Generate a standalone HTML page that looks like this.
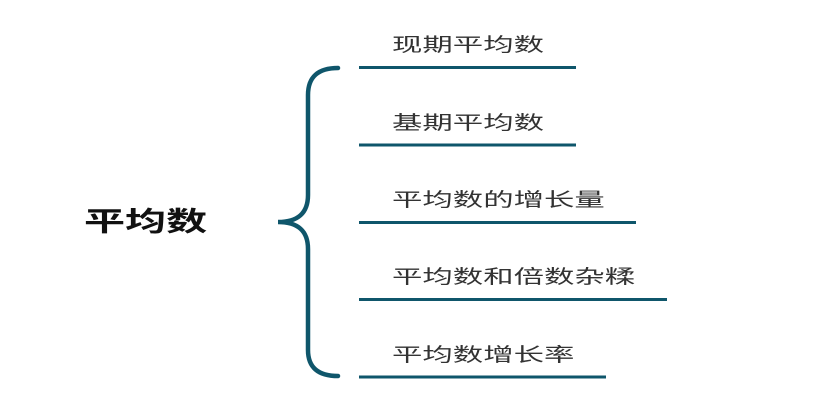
<!DOCTYPE html>
<html><head><meta charset="utf-8"><style>
html,body{margin:0;padding:0;background:#fff;}
body{width:837px;height:411px;position:relative;overflow:hidden;font-family:"Liberation Sans","Noto Sans CJK SC",sans-serif;}
.t{position:absolute;left:392px;font-size:19px;line-height:20px;color:#333;transform:scaleX(1.6);transform-origin:left center;white-space:nowrap;}
.h{position:absolute;left:84px;top:207px;font-size:27px;line-height:30px;font-weight:bold;color:#111;transform:scaleX(1.52);transform-origin:left center;white-space:nowrap;}
</style></head><body>
<svg width="837" height="411" style="position:absolute;left:0;top:0">
<g fill="none" stroke="#0f566b">
<path d="M338 68 Q308 68 308 95 L308 195 Q308 222 278 222 Q308 222 308 249 L308 350 Q308 376 338 376" stroke-width="4.5" stroke-linecap="round"/>
<g stroke-width="3">
<line x1="359" y1="67.5" x2="576" y2="67.5"/>
<line x1="359" y1="145" x2="576" y2="145"/>
<line x1="359" y1="222.5" x2="636" y2="222.5"/>
<line x1="359" y1="299.5" x2="667" y2="299.5"/>
<line x1="359" y1="377" x2="606" y2="377"/>
</g></g></svg>
<div class="h">平均数</div>
<div class="t" style="top:36px">现期平均数</div>
<div class="t" style="top:114px">基期平均数</div>
<div class="t" style="top:191px">平均数的增长量</div>
<div class="t" style="top:268px">平均数和倍数杂糅</div>
<div class="t" style="top:346px">平均数增长率</div>
</body></html>
